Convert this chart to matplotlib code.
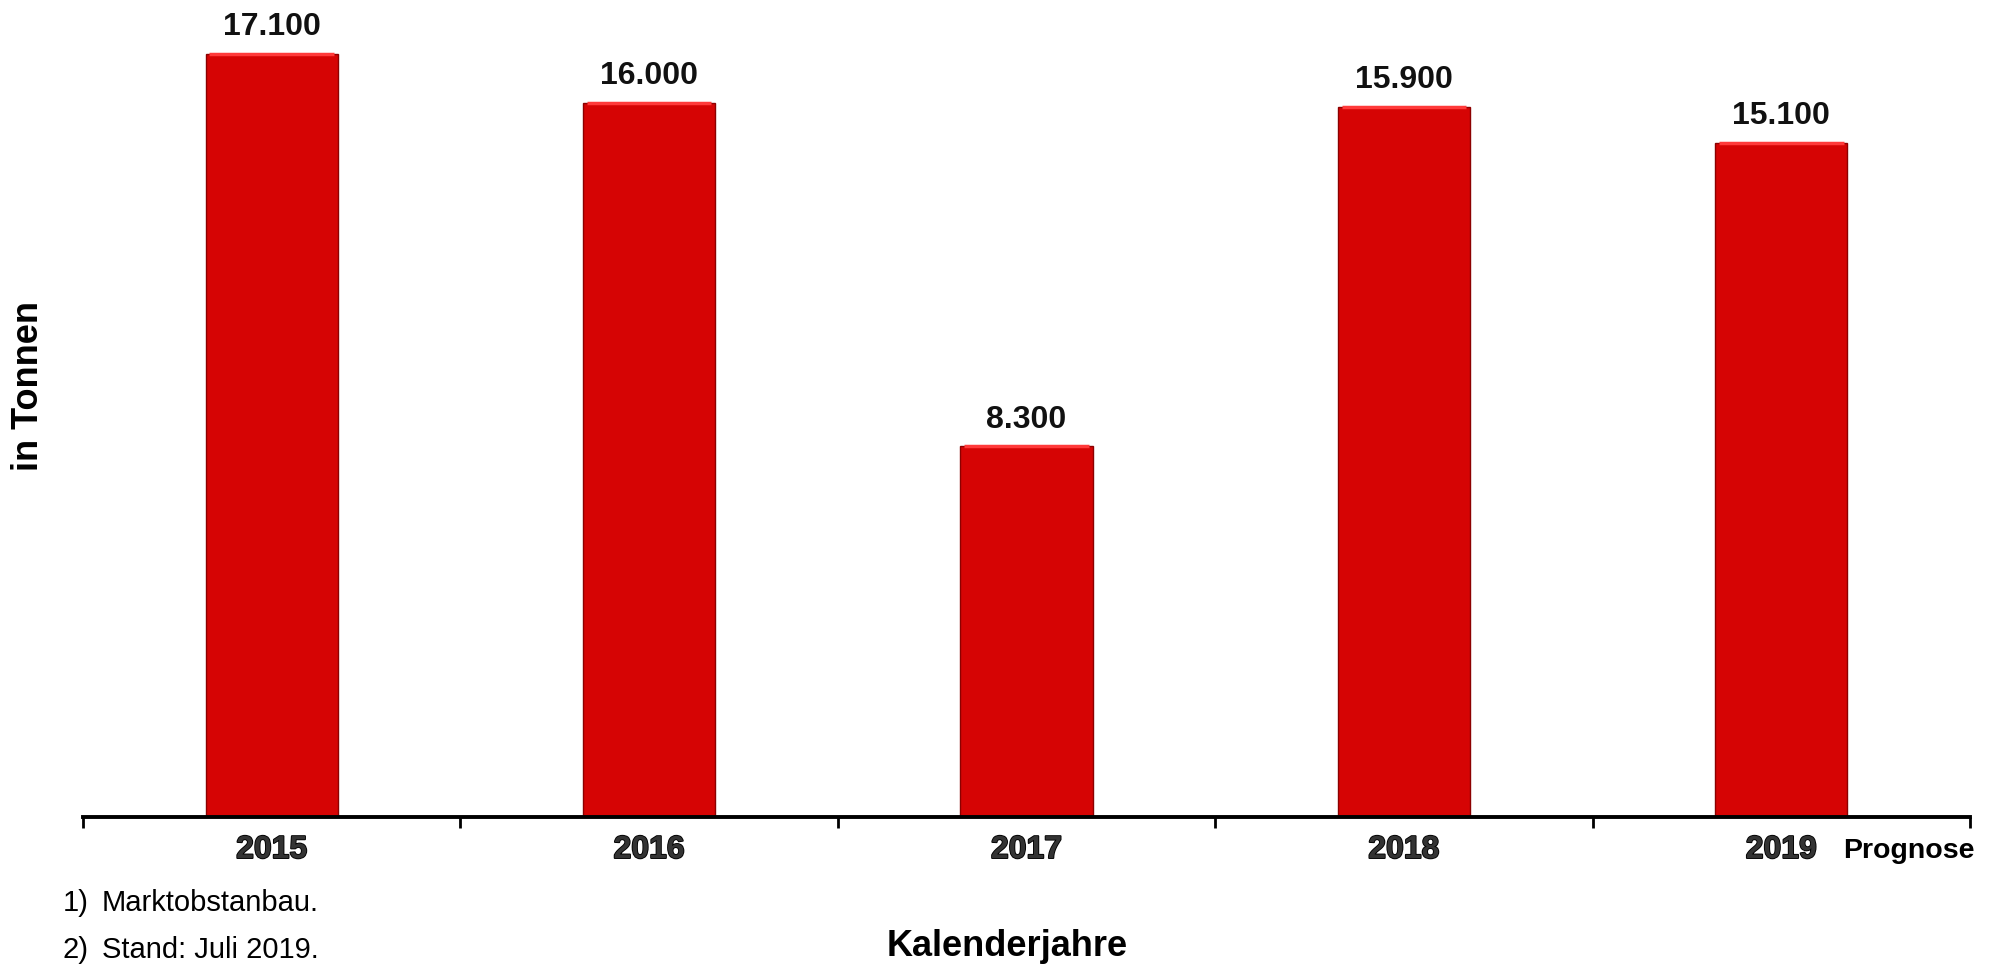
import numpy as np
import matplotlib.pyplot as plt
import matplotlib.patheffects as pe

plt.rcParams['font.family'] = ['Liberation Sans', 'DejaVu Sans']

jahre = ['2015', '2016', '2017', '2018', '2019']
tonnen = [17100, 16000, 8300, 15900, 15100]
werte_text = ['17.100', '16.000', '8.300', '15.900', '15.100']

W, H = 1997, 964
fig = plt.figure(figsize=(W / 100, H / 100), dpi=100)
ax = fig.add_axes([83 / W, 1 - 817 / H, (1970 - 83) / W, 817 / H])

x = np.arange(len(jahre))
ax.bar(x, tonnen, width=0.35, color='#d60404', edgecolor='#8c0000', linewidth=1.0, zorder=2)
# helle Kante oben (Bevel-Effekt)
ax.hlines(tonnen, x - 0.165, x + 0.165, color='#ff3a3a', linewidth=2.5, zorder=3)

for xi, v, t in zip(x, tonnen, werte_text):
    ax.annotate(t, (xi, v), xytext=(0, 8.5), textcoords='offset points',
                ha='center', va='bottom', fontsize=23, fontweight='bold', color='#111111')

ax.set_xlim(-0.5, len(jahre) - 0.5)
ax.set_ylim(0, 18300)

for s in ['top', 'right', 'left']:
    ax.spines[s].set_visible(False)
ax.spines['bottom'].set_linewidth(2.8)
ax.spines['bottom'].set_zorder(4)
ax.set_yticks([])

ax.set_xticks(np.arange(-0.5, len(jahre)), [''] * (len(jahre) + 1))
ax.tick_params(axis='x', which='major', direction='out', length=8, width=2, color='black')
ax.set_xticks(x, jahre, minor=True)
ax.tick_params(axis='x', which='minor', length=0, pad=13, labelsize=23)
for lbl in ax.get_xticklabels(minor=True):
    lbl.set_fontweight('bold')
    lbl.set_color('#333333')
    lbl.set_path_effects([pe.withStroke(linewidth=1.3, foreground='black')])

fig.text(28 / W, 1 - 386 / H, 'in Tonnen', rotation=90, ha='center', va='center',
         fontsize=26, fontweight='bold')
fig.text(1007 / W, 1 - 947 / H, 'Kalenderjahre', ha='center', va='center',
         fontsize=26, fontweight='bold')
fig.text(1843 / W, 1 - 851 / H, 'Prognose', ha='left', va='center',
         fontsize=20.5, fontweight='bold')

fig.text(63 / W, 1 - 903 / H, '1)', ha='left', va='center', fontsize=21)
fig.text(102 / W, 1 - 903 / H, 'Marktobstanbau.', ha='left', va='center', fontsize=21)
fig.text(63 / W, 1 - 950 / H, '2)', ha='left', va='center', fontsize=21)
fig.text(102 / W, 1 - 950 / H, 'Stand: Juli 2019.', ha='left', va='center', fontsize=21)

fig.savefig('out.png', dpi=100)
